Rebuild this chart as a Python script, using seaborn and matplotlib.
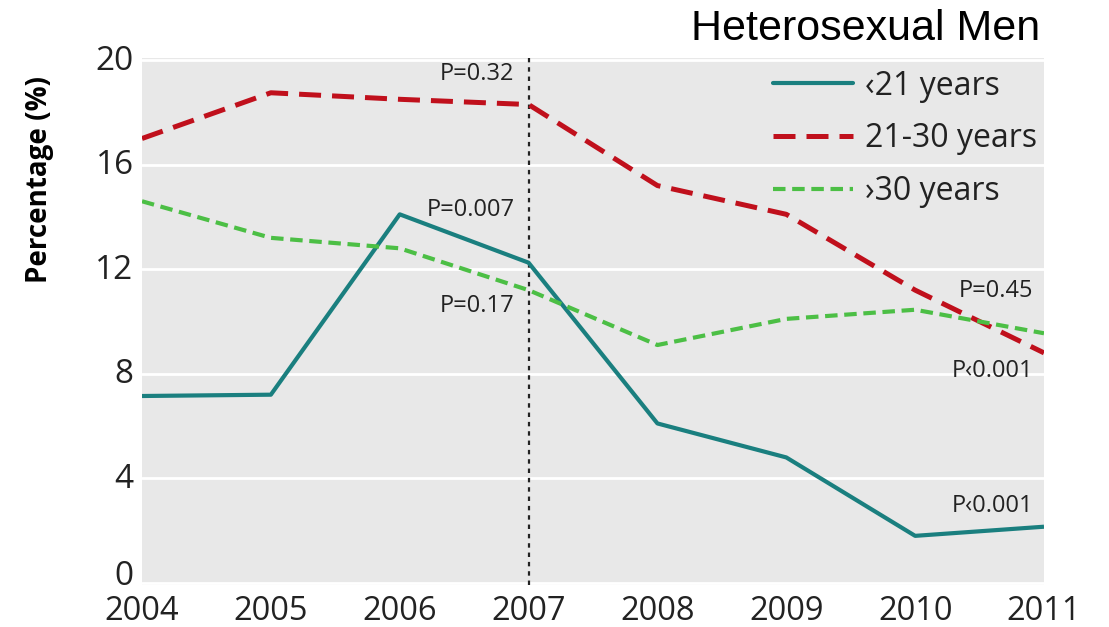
import matplotlib
matplotlib.use("Agg")
import matplotlib.pyplot as plt
import matplotlib.transforms as mtransforms
import seaborn as sns
import pandas as pd
from matplotlib.lines import Line2D

years = [2004, 2005, 2006, 2007, 2008, 2009, 2010, 2011]
under21 = [7.15, 7.2, 14.1, 12.25, 6.1, 4.8, 1.8, 2.15]
age21_30 = [17.0, 18.75, 18.5, 18.3, 15.2, 14.1, 11.2, 8.8]
over30 = [14.6, 13.2, 12.8, 11.2, 9.1, 10.1, 10.45, 9.55]
series_labels = ["\u203921 years", "21-30 years", "\u203a30 years"]
yticks = [0, 4, 8, 12, 16, 20]
title = "Heterosexual Men"
ylabel = "Percentage (%)"
annotations = [
    ("P=0.32", 2006.89, 19.45),
    ("P=0.007", 2006.89, 14.25),
    ("P=0.17", 2006.89, 10.6),
    ("P=0.45", 2010.92, 11.15),
    ("P\u20390.001", 2010.92, 8.1),
    ("P\u20390.001", 2010.92, 2.95),
]

sns.set_theme(style="darkgrid")
plt.rcParams["font.family"] = ["Open Sans", "DejaVu Sans"]

W, H = 1109, 627
fig = plt.figure(figsize=(W / 100, H / 100), dpi=100)
ax = fig.add_axes([142 / W, 1 - 585 / H, (1044 - 142) / W, (585 - 58) / H])
ax.set_facecolor("#e8e8e8")

colors = ["#1a7f7f", "#c0101c", "#4cbf45"]
df = pd.DataFrame({"year": years * 3,
                   "value": under21 + age21_30 + over30,
                   "group": [series_labels[0]] * 8 + [series_labels[1]] * 8 + [series_labels[2]] * 8})

styles = [
    dict(lw=3.0, dashes=None),
    dict(lw=3.6, dashes=(4.4, 2.2)),
    dict(lw=3.0, dashes=(3.0, 1.6)),
]
handles = []
for lab, col, st in zip(series_labels, colors, styles):
    sub = df[df["group"] == lab]
    sns.lineplot(data=sub, x="year", y="value", color=col, linewidth=st["lw"], ax=ax, legend=False)
    line = ax.lines[-1]
    if st["dashes"]:
        line.set_dashes(st["dashes"])
    line.set_solid_capstyle("butt")
    h = Line2D([], [], color=col, linewidth=st["lw"])
    if st["dashes"]:
        h.set_dashes(st["dashes"])
    handles.append(h)

ax.axvline(2007, color="#222222", linestyle=(0, (2, 2.2)), linewidth=1.6, zorder=1)

ax.set_xlim(2004, 2011)
ax.set_ylim(-0.08, 20.08)
ax.set_yticks(yticks)
ax.set_xticks(years)
ax.grid(axis="x", visible=False)
ax.grid(axis="y", color="white", linewidth=2)
for s in ax.spines.values():
    s.set_visible(False)
ax.tick_params(axis="both", length=0, labelcolor="#222222")
ax.tick_params(axis="y", pad=6, labelsize=24)
ax.tick_params(axis="x", pad=7, labelsize=23.5)
ax.set_xlabel("")
ax.set_ylabel("")
for val, lbl in zip(yticks, ax.get_yticklabels()):
    dy = 10 if val == 0 else 3
    shift = mtransforms.ScaledTranslation(0, dy / 100, fig.dpi_scale_trans)
    lbl.set_transform(lbl.get_transform() + shift)

for txt, x, y in annotations:
    ax.text(x, y, txt, ha="right", va="center", fontsize=17, color="#222222")

leg = ax.legend(handles, series_labels, loc="upper right", bbox_to_anchor=(1.0, 0.99),
                frameon=False, fontsize=23, handlelength=2.5, handletextpad=0.4,
                labelspacing=0.62, borderaxespad=0, borderpad=0.2)
for t in leg.get_texts():
    t.set_color("#222222")

fig.text(1040 / W, 1 - 29 / H, title, ha="right", va="center", fontsize=31,
         family=["Liberation Sans", "DejaVu Sans"], color="black")
fig.text(40 / W, 1 - 180 / H, ylabel, ha="center", va="center", rotation=90,
         fontsize=20, fontweight="bold", color="black")

fig.savefig("out.png", dpi=100, facecolor="white")
